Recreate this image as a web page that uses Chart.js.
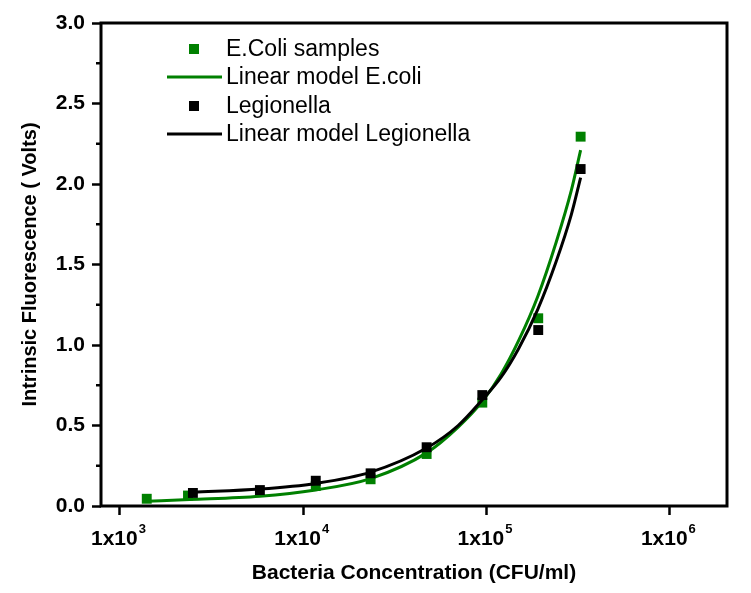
<!DOCTYPE html>
<html>
<head>
<meta charset="utf-8">
<script src="https://cdn.jsdelivr.net/npm/chart.js@4.4.1/dist/chart.umd.min.js"></script>
<style>
  html, body { margin: 0; padding: 0; background: #fff; }
  #wrap { width: 751px; height: 593px; }
</style>
</head>
<body>
<div id="wrap"><canvas id="chart" width="751" height="593"></canvas></div>
<script>
const ecoliConc = [1400, 2350, 11700, 23300, 47100, 94800, 191400, 326000];
const ecoliSignal = [0.045, 0.065, 0.124, 0.166, 0.323, 0.642, 1.166, 2.294];

const legioConc = [2500, 5800, 11700, 23300, 47100, 94800, 191400, 326000];
const legioSignal = [0.081, 0.099, 0.157, 0.203, 0.365, 0.689, 1.093, 2.093];

// Fitted curves
const ecoliFitConc = [1400, 2400, 5800, 11700, 23300, 47100, 70000, 94800, 120000, 150000, 190000, 240000, 290000, 326000];
const ecoliFitSignal = [0.03, 0.04, 0.06, 0.10, 0.17, 0.33, 0.49, 0.65, 0.82, 1.03, 1.30, 1.64, 1.96, 2.21];

const legioFitConc = [2500, 5800, 11700, 23300, 47100, 70000, 94800, 120000, 150000, 190000, 240000, 290000, 326000];
const legioFitSignal = [0.085, 0.105, 0.14, 0.21, 0.36, 0.50, 0.66, 0.80, 0.98, 1.22, 1.52, 1.81, 2.04];

const xTickValues = [1e3, 1e4, 1e5, 1e6];
const xTickBase = '1x10';
const xTickExponents = ['3', '4', '5', '6'];
const yMinorTicks = [0.25, 0.75, 1.25, 1.75, 2.25, 2.75];

const GREEN = '#008000';
const BLACK = '#000000';
const SANS = "'Liberation Sans', Arial, sans-serif";

function toPoints(xs, ys) {
  return xs.map((x, i) => ({ x: x, y: ys[i] }));
}

// box around the plot, minor y ticks and the 1x10^n labels
const frame = {
  id: 'frame',
  afterDraw(chart) {
    const { ctx, chartArea: a } = chart;
    const y = chart.scales.y;
    const x = chart.scales.x;
    ctx.save();
    ctx.strokeStyle = BLACK;
    ctx.lineWidth = 3;
    ctx.strokeRect(a.left, a.top, a.right - a.left, a.bottom - a.top);
    ctx.lineWidth = 2.5;
    yMinorTicks.forEach(v => {
      const py = y.getPixelForValue(v);
      ctx.beginPath();
      ctx.moveTo(a.left - 5, py);
      ctx.lineTo(a.left, py);
      ctx.stroke();
    });

    // tick labels with a real superscript
    ctx.fillStyle = BLACK;
    ctx.textBaseline = 'alphabetic';
    ctx.textAlign = 'left';
    xTickValues.forEach((v, i) => {
      const px = x.getPixelForValue(v);
      ctx.font = 'bold 21px ' + SANS;
      const wBase = ctx.measureText(xTickBase).width;
      ctx.font = 'bold 13px ' + SANS;
      const wExp = ctx.measureText(xTickExponents[i]).width;
      const start = px - 2 - (wBase + wExp) / 2;
      ctx.font = 'bold 21px ' + SANS;
      ctx.fillText(xTickBase, start, 545);
      ctx.font = 'bold 13px ' + SANS;
      ctx.fillText(xTickExponents[i], start + wBase + 1, 533);
    });
    ctx.restore();
  }
};

// legend drawn inside the plot, like the original
const insideLegend = {
  id: 'insideLegend',
  afterDraw(chart) {
    const ctx = chart.ctx;
    const rows = [49, 77, 106, 134];
    ctx.save();
    ctx.font = '23px ' + SANS;
    ctx.textBaseline = 'middle';
    chart.data.datasets.forEach((ds, i) => {
      const y = rows[i];
      if (ds.showLine) {
        ctx.strokeStyle = ds.borderColor;
        ctx.lineWidth = 3;
        ctx.beginPath();
        ctx.moveTo(167, y);
        ctx.lineTo(222, y);
        ctx.stroke();
      } else {
        ctx.fillStyle = ds.backgroundColor;
        ctx.fillRect(189, y - 5, 10, 10);
      }
      ctx.fillStyle = BLACK;
      ctx.fillText(ds.label, 226, y + 1);
    });
    ctx.restore();
  }
};

new Chart(document.getElementById('chart'), {
  type: 'scatter',
  data: {
    datasets: [
      {
        label: 'E.Coli samples',
        data: toPoints(ecoliConc, ecoliSignal),
        showLine: false,
        pointStyle: 'rect',
        pointRadius: 7,
        backgroundColor: GREEN,
        borderColor: GREEN,
        borderWidth: 0,
        order: 3
      },
      {
        label: 'Linear model E.coli',
        data: toPoints(ecoliFitConc, ecoliFitSignal),
        showLine: true,
        pointRadius: 0,
        borderColor: GREEN,
        backgroundColor: GREEN,
        borderWidth: 3,
        cubicInterpolationMode: 'monotone',
        order: 2
      },
      {
        label: 'Legionella',
        data: toPoints(legioConc, legioSignal),
        showLine: false,
        pointStyle: 'rect',
        pointRadius: 7,
        backgroundColor: BLACK,
        borderColor: BLACK,
        borderWidth: 0,
        order: 0
      },
      {
        label: 'Linear model Legionella',
        data: toPoints(legioFitConc, legioFitSignal),
        showLine: true,
        pointRadius: 0,
        borderColor: BLACK,
        backgroundColor: BLACK,
        borderWidth: 3,
        cubicInterpolationMode: 'monotone',
        order: 1
      }
    ]
  },
  options: {
    responsive: false,
    animation: false,
    devicePixelRatio: 1,
    layout: { padding: { left: 0, right: 24, top: 23, bottom: 0 } },
    plugins: {
      legend: { display: false },
      tooltip: { enabled: false }
    },
    scales: {
      x: {
        type: 'logarithmic',
        min: 788,
        max: 2.05e6,
        afterFit(scale) { scale.height = 87; },
        afterBuildTicks(scale) {
          scale.ticks = xTickValues.map(v => ({ value: v }));
        },
        border: { display: false },
        grid: {
          drawOnChartArea: false,
          drawTicks: true,
          tickLength: 9,
          tickWidth: 2.5,
          tickColor: BLACK
        },
        ticks: {
          color: BLACK,
          autoSkip: false,
          maxRotation: 0,
          font: { family: SANS, size: 21, weight: 'bold' },
          callback: () => ''
        },
        title: {
          display: true,
          text: 'Bacteria Concentration (CFU/ml)',
          color: BLACK,
          padding: { top: 0, bottom: 7 },
          font: { family: SANS, size: 21, weight: 'bold' }
        }
      },
      y: {
        min: 0,
        max: 3,
        afterFit(scale) { scale.width = 101; },
        border: { display: false },
        grid: {
          drawOnChartArea: false,
          drawTicks: true,
          tickLength: 9,
          tickWidth: 2.5,
          tickColor: BLACK
        },
        ticks: {
          stepSize: 0.5,
          color: BLACK,
          padding: 7,
          font: { family: SANS, size: 21, weight: 'bold' },
          callback: (v) => v.toFixed(1)
        },
        title: {
          display: true,
          text: 'Intrinsic Fluorescence ( Volts)',
          color: BLACK,
          padding: { top: 18, bottom: 0 },
          font: { family: SANS, size: 20, weight: 'bold' }
        }
      }
    }
  },
  plugins: [frame, insideLegend]
});
</script>
</body>
</html>
